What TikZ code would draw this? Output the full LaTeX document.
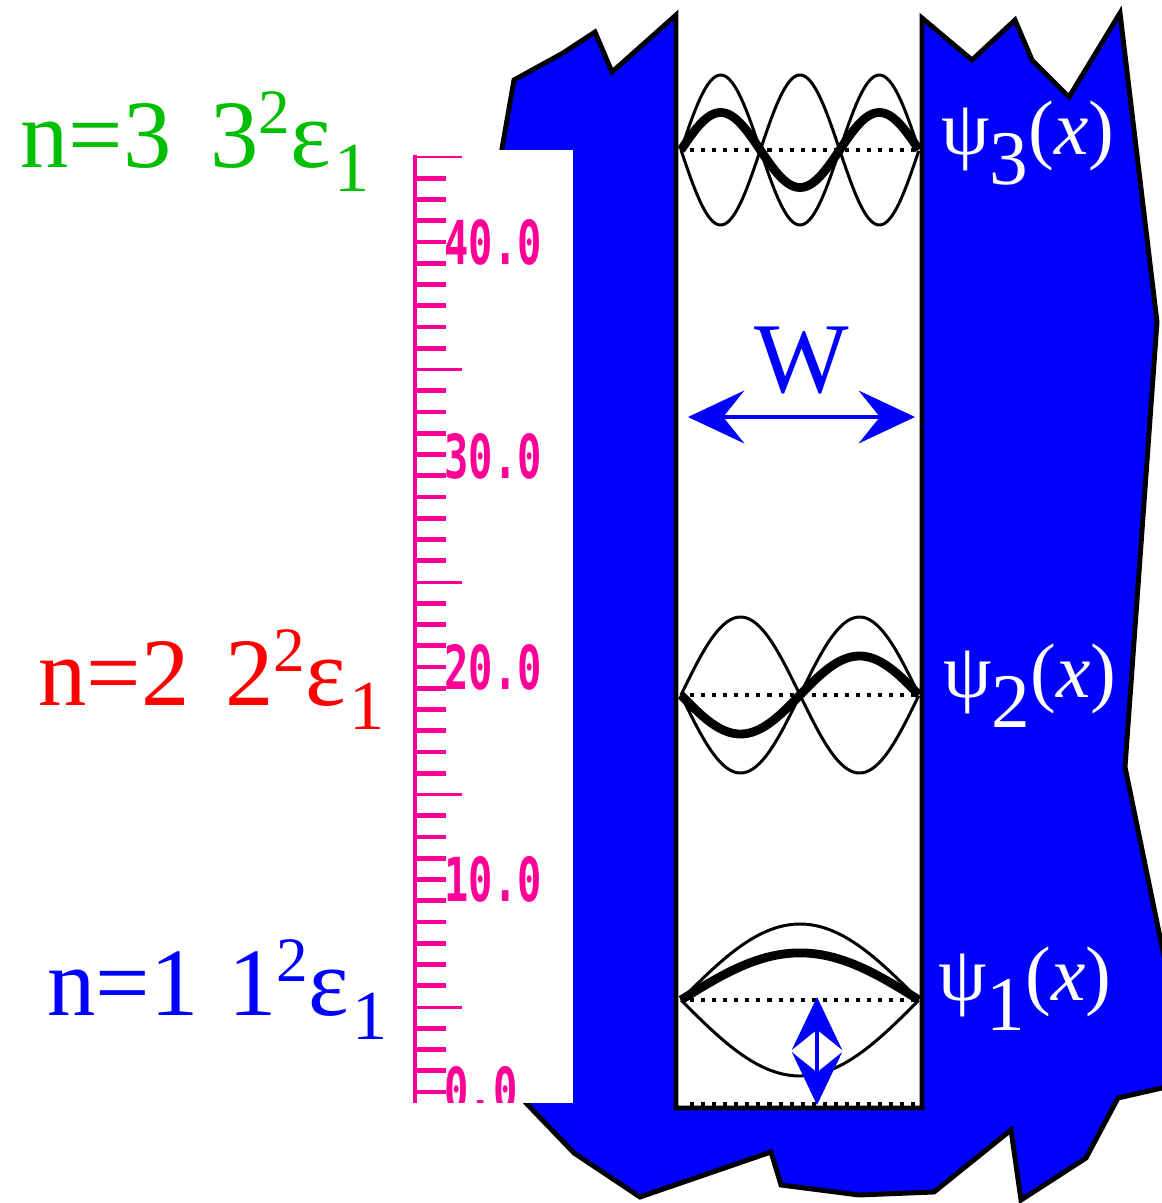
\documentclass[tikz,border=0pt]{standalone}
\usepackage{graphicx}
\usepackage{fontspec}
\setmainfont{Liberation Serif}
\newfontfamily\rulerfont{DejaVu Sans Mono}
\usetikzlibrary{arrows.meta}

\definecolor{wallblue}{RGB}{0,0,255}
\definecolor{rulerpink}{RGB}{255,0,150}
\definecolor{lvlgreen}{RGB}{0,190,0}
\definecolor{lvlred}{RGB}{255,0,0}

% energy n^2 eps_1 with hand-placed super/subscripts
\newcommand\lvlpower[1]{#1\raisebox{19.3pt}{\fontsize{36}{40}\selectfont 2}ε\kern2pt\raisebox{-14.2pt}{\fontsize{40}{44}\selectfont 1}}

\tikzset{
  wall/.style={fill=wallblue, draw=black, line width=2.8pt, line join=miter, miter limit=4},
  thinwave/.style={black, line width=1.7pt},
  thickwave/.style={black, line width=5pt},
  dotline/.style={black, line width=2.3pt, dash pattern=on 2.3pt off 4pt},
  minortick/.style={rulerpink, line width=2.6pt},
  longtick/.style={rulerpink, line width=1.7pt},
  levellabel/.style={anchor=base west, inner sep=0pt, font=\fontsize{55}{60}\selectfont},
  psilabel/.style={anchor=base west, inner sep=0pt, text=white, font=\fontsize{44}{48}\selectfont},
  rulerlabel/.style={anchor=west, inner sep=0pt, text=rulerpink, font=\rulerfont\bfseries\fontsize{23}{26}\selectfont},
  bigtip/.tip={Stealth[length=32pt, width=30pt, inset=12pt]},
  amptip/.tip={Stealth[length=30pt, width=28.5pt, inset=11.4pt]}
}

\begin{document}
\begin{tikzpicture}[x=0.02cm, y=-0.02cm]
  \clip (0,0) rectangle (1162,1203);

  % jagged material around the well (U-shaped slab)
  \draw[wall] (500,160) -- (514,80) -- (563,53) -- (595,32) -- (612,72) -- (676,15)
    -- (676,1108) -- (922,1108) -- (922,18)
    -- (972,60) -- (1015,20) -- (1032,60) -- (1069,97) -- (1120,13)
    -- (1157,322) -- (1125,767) -- (1175,1010) -- (1175,1085) -- (1118,1098)
    -- (1086,1158) -- (1021,1200) -- (1011,1130) -- (934,1192) -- (859,1195)
    -- (781,1185) -- (771,1152) -- (640,1197) -- (574,1153) -- (526,1103)
    -- (520,1096) -- cycle;

  % white panel behind the energy scale
  \fill[white] (480,150) rectangle (573,1103);

  % energy scale
  \begin{scope}
    \clip (380,140) rectangle (600,1102);
    \draw[rulerpink, line width=2.8pt] (415,155) -- (415,1110);
    \foreach \i in {0,...,44}{
      \pgfmathtruncatemacro\m{mod(\i,10)}
      \ifnum\m=0
        \draw[longtick] (415,{157+21.25*\i}) -- (462,{157+21.25*\i});
      \else
        \draw[minortick] (415,{157+21.25*\i}) -- (446,{157+21.25*\i});
      \fi
    }
    \foreach \v/\i/\dy in {40.0/4/0, 30.0/14/2, 20.0/24/0, 10.0/34/0, 0.0/44/-3}{
      \node[rulerlabel] (rl\i) at (444,{157+21.25*\i+\dy}) {\scalebox{1}[1.5]{\v}};
    }
  \end{scope}

  % wavefunctions: envelopes (thin), snapshot (thick), axis (dotted)
  \foreach \nn/\yb/\am/\kk in {1/1000/76/0.62, 2/695/78/-0.5, 3/150/75/0.5}{
    \draw[dotline] (690,\yb) -- (915,\yb);
    \draw[thinwave] plot[domain=0:1, samples=120] ({681+238*\x}, {\yb-\am*sin(180*\nn*\x)});
    \draw[thinwave] plot[domain=0:1, samples=120] ({681+238*\x}, {\yb+\am*sin(180*\nn*\x)});
    \draw[thickwave] plot[domain=0:1, samples=120] ({681+238*\x}, {\yb-\kk*\am*sin(180*\nn*\x)});
  }
  \draw[dotline] (690,1104) -- (916,1104);

  % well width
  \node[anchor=base, inner sep=0pt, text=wallblue, font=\fontsize{57}{60}\selectfont] (wlabel) at (802,392) {W};
  \coordinate (wl) at (688,417);
  \coordinate (wr) at (915,417);
  \draw[wallblue, line width=2.8pt, {bigtip}-{bigtip}] (wl) -- (wr);

  % amplitude marker
  \coordinate (at) at (817,997);
  \coordinate (ab) at (817,1105);
  \draw[wallblue, line width=2.2pt, {amptip}-{amptip}] (at) -- (ab);

  % wavefunction names
  \node[psilabel] (psi3) at (941,154) {ψ\raisebox{-17.6pt}{3}(\textit{x})};
  \node[psilabel] (psi2) at (943,697) {ψ\raisebox{-17.6pt}{2}(\textit{x})};
  \node[psilabel] (psi1) at (938,1000) {ψ\raisebox{-17.6pt}{1}(\textit{x})};

  % level labels
  \node[levellabel, text=lvlgreen] (n3) at (20,167) {n=3};
  \node[levellabel, text=lvlgreen] (e3) at (210,167) {\lvlpower{3}};
  \node[levellabel, text=lvlred] (n2) at (38,705) {n=2};
  \node[levellabel, text=lvlred] (e2) at (225,705) {\lvlpower{2}};
  \node[levellabel, text=wallblue] (n1) at (47,1015) {n=1};
  \node[levellabel, text=wallblue] (e1) at (228,1015) {\lvlpower{1}};
\end{tikzpicture}
\end{document}
